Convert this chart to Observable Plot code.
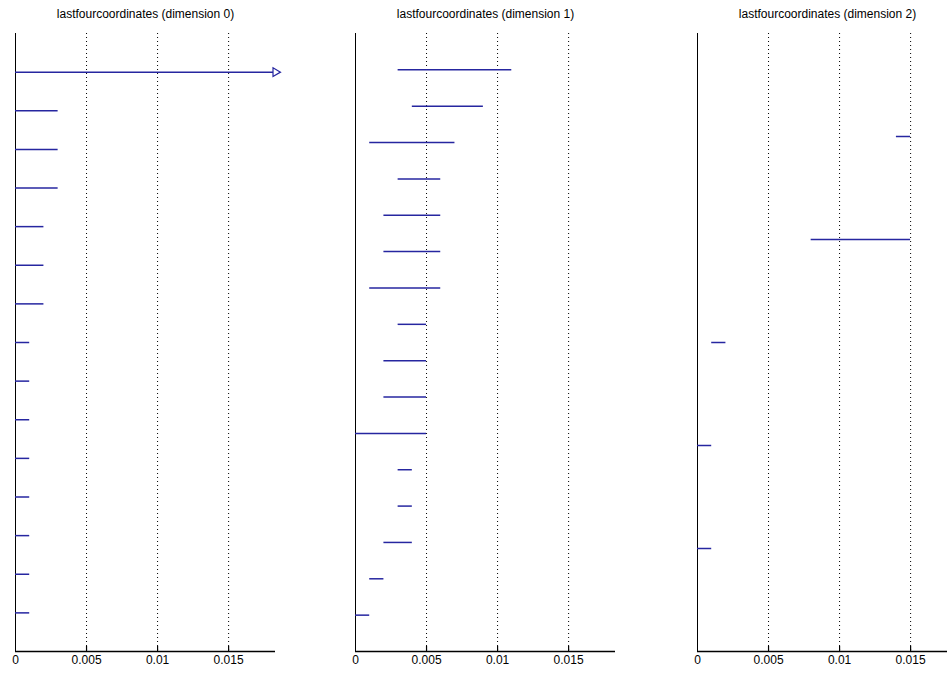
<!DOCTYPE html>
<html>
<head>
<meta charset="utf-8">
<script src="https://cdn.jsdelivr.net/npm/d3@7"></script>
<script src="https://cdn.jsdelivr.net/npm/@observablehq/plot@0.6"></script>
<style>
  html, body { margin: 0; padding: 0; background: #fff; }
  #wrap { position: relative; width: 947px; height: 680px; overflow: hidden; background: #fff; }
  .panel { position: absolute; top: 0; }
</style>
</head>
<body>
<div id="wrap"></div>
<script>
// ---- data ----
const titles = [
  "lastfourcoordinates (dimension 0)",
  "lastfourcoordinates (dimension 1)",
  "lastfourcoordinates (dimension 2)"
];
const xTicks = [0, 0.005, 0.01, 0.015];
const xTickLabels = ["0", "0.005", "0.01", "0.015"];

// dimension 0 (first row runs past the axis end -> drawn with an arrow head)
const dim0Rows = [1,2,3,4,5,6,7,8,9,10,11,12,13,14,15];
const dim0Lo   = [0,0,0,0,0,0,0,0,0,0,0,0,0,0,0];
const dim0Hi   = [0.02,0.003,0.003,0.003,0.002,0.002,0.002,0.001,0.001,0.001,0.001,0.001,0.001,0.001,0.001];
const dim0Overflow = [true,false,false,false,false,false,false,false,false,false,false,false,false,false,false];

// dimension 1
const dim1Rows = [1,2,3,4,5,6,7,8,9,10,11,12,13,14,15,16];
const dim1Lo   = [0.003,0.004,0.001,0.003,0.002,0.002,0.001,0.003,0.002,0.002,0,0.003,0.003,0.002,0.001,0];
const dim1Hi   = [0.011,0.009,0.007,0.006,0.006,0.006,0.006,0.005,0.005,0.005,0.005,0.004,0.004,0.004,0.002,0.001];

// dimension 2
const dim2Rows = [1,2,3,4,5];
const dim2Lo   = [0.014,0.008,0.001,0,0];
const dim2Hi   = [0.015,0.015,0.002,0.001,0.001];

const xMax = 0.0183;

// ---- build ----
const FONT = "'Liberation Sans Narrow', 'Arial Narrow', 'Liberation Sans', sans-serif";
const BLUE = "#2626a0";
const W = 341, H = 680, ML = 15, MR = 66, MT = 33, MB = 29;

function panel(title, rows, lo, hi, overflow, left) {
  const data = rows.map((r, i) => ({row: r, lo: lo[i], hi: hi[i], over: overflow ? overflow[i] : false}));
  const n = rows.length;
  const chart = Plot.plot({
    width: W,
    height: H,
    marginLeft: ML,
    marginRight: MR,
    marginTop: MT,
    marginBottom: MB,
    style: {fontFamily: FONT, fontSize: "12px", color: "#000", background: "transparent"},
    x: {domain: [0, xMax], clamp: true},
    y: {domain: [0, n + 1], reverse: true},
    marks: [
      Plot.gridX(xTicks.slice(1), {stroke: "#000", strokeOpacity: 1, strokeDasharray: "1,3"}),
      Plot.axisX({
        ticks: xTicks,
        tickFormat: (d) => xTickLabels[xTicks.indexOf(d)],
        tickSize: 0,
        tickPadding: 4,
        label: null,
        fontSize: 12
      }),
      Plot.axisY({ticks: [], label: null}),
      // inward tick marks on the bottom axis
      Plot.ruleX(xTicks.slice(1), {stroke: "#000", strokeWidth: 1.2, insetTop: H - MT - MB - 5}),
      // axis lines (left and bottom)
      Plot.ruleX([0], {stroke: "#000", strokeWidth: 1}),
      Plot.ruleY([n + 1], {stroke: "#000", strokeWidth: 1.5}),
      Plot.ruleY(data, {y: "row", x1: "lo", x2: "hi", stroke: BLUE, strokeWidth: 1.5}),
      Plot.dot(data.filter(d => d.over), {x: "hi", y: "row", symbol: "triangle", rotate: 90, r: 3.2, fill: "#fff", stroke: BLUE, strokeWidth: 1.2}),
      Plot.text([title], {frameAnchor: "top", dy: -24, fontSize: 12, fill: "#000"})
    ]
  });
  chart.classList.add("panel");
  chart.style.left = left + "px";
  document.getElementById("wrap").appendChild(chart);
}

panel(titles[0], dim0Rows, dim0Lo, dim0Hi, dim0Overflow, 0);
panel(titles[1], dim1Rows, dim1Lo, dim1Hi, null, 340);
panel(titles[2], dim2Rows, dim2Lo, dim2Hi, null, 682);
</script>
</body>
</html>
